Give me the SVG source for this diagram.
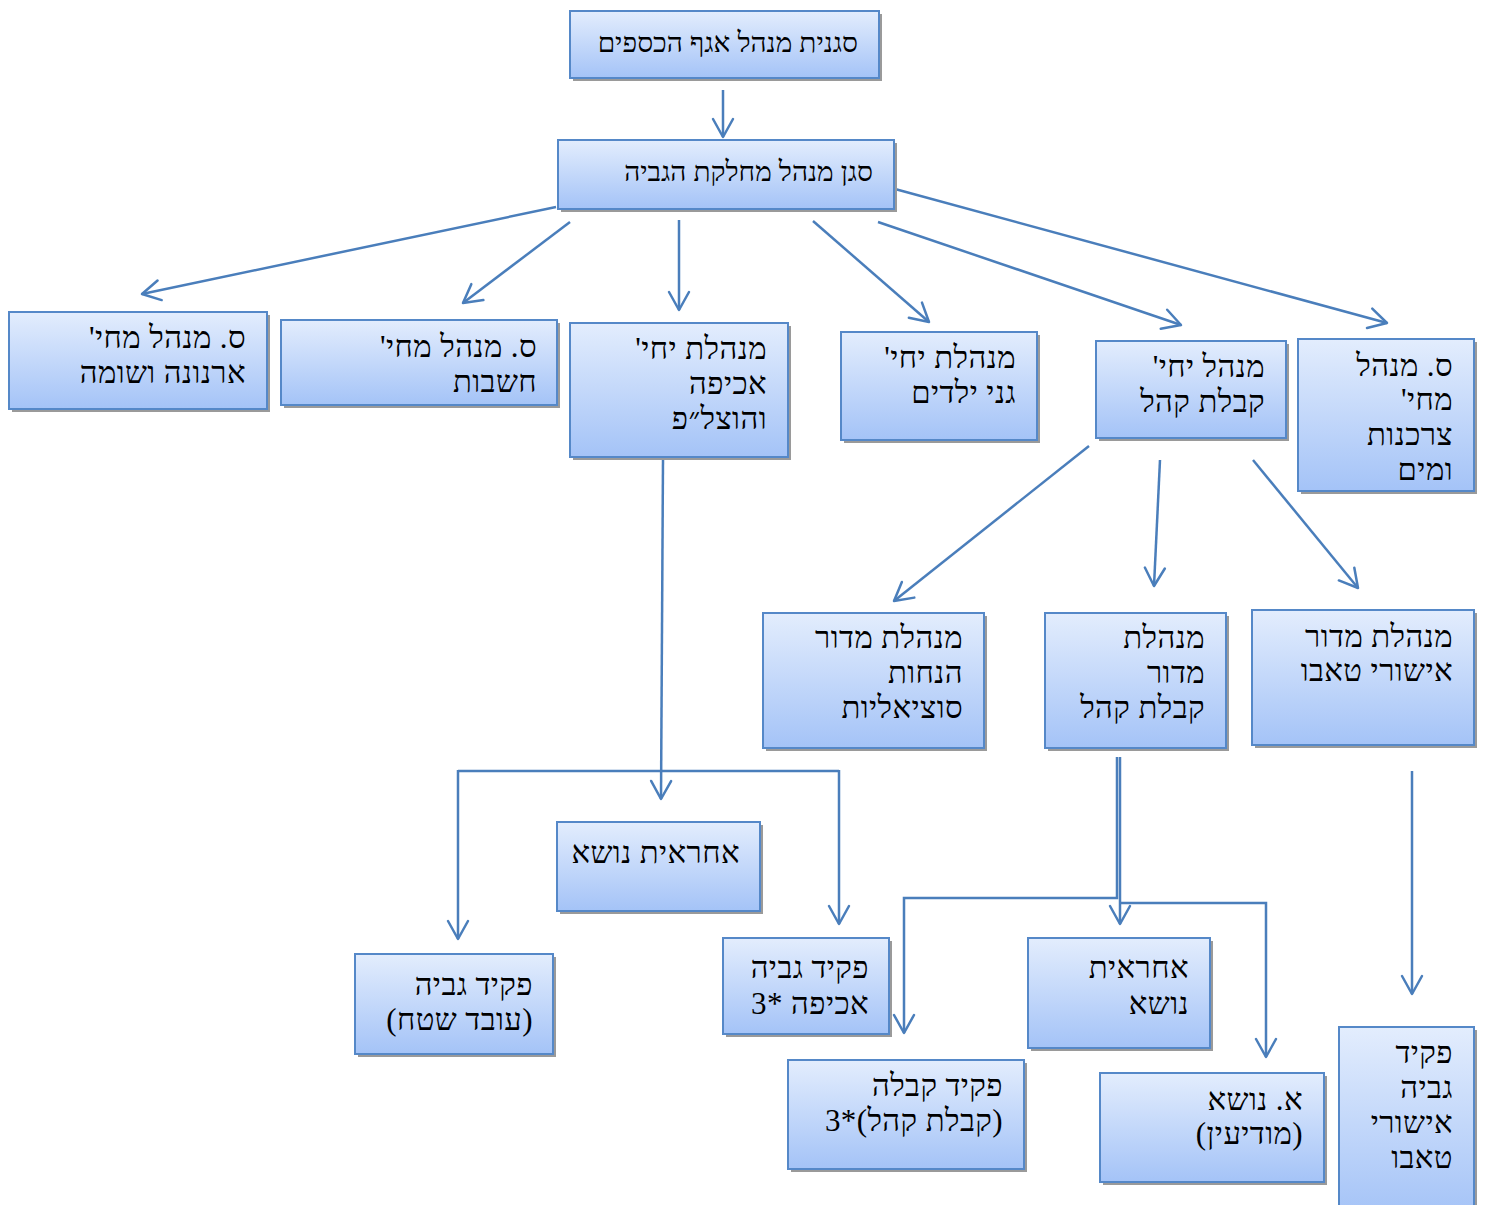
<svg xmlns="http://www.w3.org/2000/svg" width="1485" height="1205" viewBox="0 0 1485 1205">
<defs>
<linearGradient id="g" x1="0" y1="0" x2="0" y2="1">
<stop offset="0" stop-color="#e3edfd"/>
<stop offset="1" stop-color="#a4c3f7"/>
</linearGradient>
<marker id="a" markerUnits="userSpaceOnUse" viewBox="-20 -12 22 24" markerWidth="22" markerHeight="24" refX="0" refY="0" orient="auto">
<path d="M-18,-10 L0,0 L-18,10" fill="none" stroke="#4a7ebb" stroke-width="2.5" stroke-linecap="round" stroke-linejoin="round"/>
</marker>
</defs>
<style>
.sh{fill:#9a9a9a}
.bx{fill:url(#g);stroke:#5588c8;stroke-width:2}
.t{font-family:"Liberation Serif","DejaVu Serif",serif;font-size:31px;letter-spacing:0.4px;fill:#000;direction:rtl;text-anchor:start}
.t2{font-size:28px;letter-spacing:0}
.c{fill:none;stroke:#4a7ebb;stroke-width:2.5}
.ca{fill:none;stroke:#4a7ebb;stroke-width:2.5;marker-end:url(#a)}
</style>
<rect width="1485" height="1205" fill="#fff"/>
<g id="connectors">
<line class="ca" x1="723" y1="90" x2="723" y2="137"/>
<line class="ca" x1="556" y1="207" x2="142" y2="294"/>
<line class="ca" x1="570" y1="222" x2="463" y2="303"/>
<line class="ca" x1="679" y1="220" x2="679" y2="310"/>
<line class="ca" x1="813" y1="221" x2="929" y2="322"/>
<line class="ca" x1="878" y1="222" x2="1181" y2="325"/>
<line class="ca" x1="895" y1="189" x2="1387" y2="323"/>
<line class="ca" x1="663" y1="459" x2="661" y2="799"/>
<polyline class="c" points="839,771 458,771"/>
<line class="ca" x1="458" y1="770" x2="458" y2="939"/>
<line class="ca" x1="839" y1="770" x2="839" y2="924"/>
<line class="ca" x1="1089" y1="446" x2="894" y2="601"/>
<line class="ca" x1="1160" y1="460" x2="1154" y2="586"/>
<line class="ca" x1="1253" y1="460" x2="1358" y2="588"/>
<polyline class="ca" points="1117,757 1117,898 904,898 904,1033"/>
<line class="ca" x1="1120" y1="757" x2="1120" y2="924"/>
<polyline class="ca" points="1120,903 1266,903 1266,1057"/>
<line class="ca" x1="1412" y1="771" x2="1412" y2="994"/>
</g>
<g id="n1"><rect class="sh" x="573" y="14" width="309" height="67"/><rect class="bx" x="570" y="11" width="309" height="67"/><text class="t t2" x="858" y="52">סגנית מנהל אגף הכספים</text></g>
<g id="n2"><rect class="sh" x="561" y="143" width="336" height="69"/><rect class="bx" x="558" y="140" width="336" height="69"/><text class="t t2" x="873" y="181">סגן מנהל מחלקת הגביה</text></g>
<g id="n3"><rect class="sh" x="12" y="315" width="258" height="97"/><rect class="bx" x="9" y="312" width="258" height="97"/><text class="t" x="246" y="348">ס. מנהל מחי'</text><text class="t" x="246" y="383">ארנונה ושומה</text></g>
<g id="n4"><rect class="sh" x="284" y="323" width="276" height="85"/><rect class="bx" x="281" y="320" width="276" height="85"/><text class="t" x="537" y="357">ס. מנהל מחי'</text><text class="t" x="537" y="392">חשבות</text></g>
<g id="n5"><rect class="sh" x="573" y="326" width="218" height="134"/><rect class="bx" x="570" y="323" width="218" height="134"/><text class="t" x="767" y="359">מנהלת יחי'</text><text class="t" x="767" y="394">אכיפה</text><text class="t" x="767" y="429">והוצל״פ</text></g>
<g id="n6"><rect class="sh" x="844" y="335" width="196" height="108"/><rect class="bx" x="841" y="332" width="196" height="108"/><text class="t" x="1016" y="368">מנהלת יחי'</text><text class="t" x="1016" y="403">גני ילדים</text></g>
<g id="n7"><rect class="sh" x="1099" y="344" width="190" height="97"/><rect class="bx" x="1096" y="341" width="190" height="97"/><text class="t" x="1265" y="377">מנהל יחי'</text><text class="t" x="1265" y="412">קבלת קהל</text></g>
<g id="n8"><rect class="sh" x="1301" y="342" width="176" height="152"/><rect class="bx" x="1298" y="339" width="176" height="152"/><text class="t" x="1453" y="376">ס. מנהל</text><text class="t" x="1453" y="410">מחי'</text><text class="t" x="1453" y="445">צרכנות</text><text class="t" x="1453" y="480">ומים</text></g>
<g id="n9"><rect class="sh" x="766" y="616" width="221" height="135"/><rect class="bx" x="763" y="613" width="221" height="135"/><text class="t" x="963" y="648">מנהלת מדור</text><text class="t" x="963" y="683">הנחות</text><text class="t" x="963" y="718">סוציאליות</text></g>
<g id="n10"><rect class="sh" x="1048" y="616" width="181" height="135"/><rect class="bx" x="1045" y="613" width="181" height="135"/><text class="t" x="1205" y="648">מנהלת</text><text class="t" x="1205" y="683">מדור</text><text class="t" x="1205" y="718">קבלת קהל</text></g>
<g id="n11"><rect class="sh" x="1255" y="613" width="222" height="135"/><rect class="bx" x="1252" y="610" width="222" height="135"/><text class="t" x="1453" y="647">מנהלת מדור</text><text class="t" x="1453" y="681">אישורי טאבו</text></g>
<g id="n12"><rect class="sh" x="560" y="825" width="203" height="89"/><rect class="bx" x="557" y="822" width="203" height="89"/><text class="t" x="740" y="863">אחראית נושא</text></g>
<g id="n13"><rect class="sh" x="358" y="957" width="198" height="100"/><rect class="bx" x="355" y="954" width="198" height="100"/><text class="t" x="533" y="995">פקיד גביה</text><text class="t" x="533" y="1030">(עובד שטח)</text></g>
<g id="n14"><rect class="sh" x="726" y="941" width="166" height="96"/><rect class="bx" x="723" y="938" width="166" height="96"/><text class="t" x="869" y="978">פקיד גביה</text><text class="t" x="869" y="1014">אכיפה *3</text></g>
<g id="n15"><rect class="sh" x="1031" y="941" width="182" height="110"/><rect class="bx" x="1028" y="938" width="182" height="110"/><text class="t" x="1189" y="978">אחראית</text><text class="t" x="1189" y="1014">נושא</text></g>
<g id="n16"><rect class="sh" x="791" y="1063" width="236" height="109"/><rect class="bx" x="788" y="1060" width="236" height="109"/><text class="t" x="1003" y="1096">פקיד קבלה</text><text class="t" x="1003" y="1131">(קבלת קהל)*3</text></g>
<g id="n17"><rect class="sh" x="1103" y="1076" width="224" height="109"/><rect class="bx" x="1100" y="1073" width="224" height="109"/><text class="t" x="1303" y="1110">א. נושא</text><text class="t" x="1303" y="1144">(מודיעין)</text></g>
<g id="n18"><rect class="sh" x="1342" y="1030" width="135" height="190"/><rect class="bx" x="1339" y="1027" width="135" height="190"/><text class="t" x="1453" y="1063">פקיד</text><text class="t" x="1453" y="1098">גביה</text><text class="t" x="1453" y="1133">אישורי</text><text class="t" x="1453" y="1168">טאבו</text></g>
</svg>
